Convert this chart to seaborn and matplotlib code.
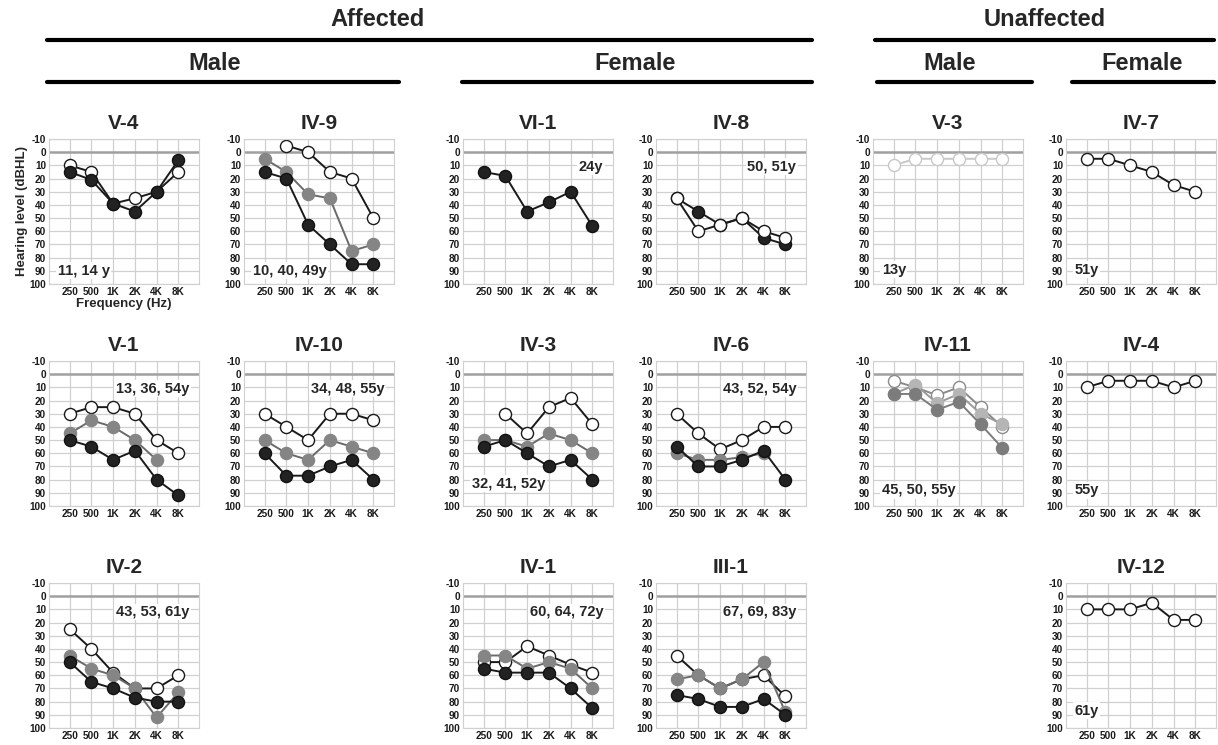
import matplotlib
matplotlib.use("Agg")
import matplotlib.pyplot as plt
from matplotlib.lines import Line2D
import numpy as np
import pandas as pd
import seaborn as sns

sns.set_style("white")
plt.rcParams["font.family"] = ["Liberation Sans", "DejaVu Sans"]

# frequencies (categorical x axis)
freqs = ["250", "500", "1K", "2K", "4K", "8K"]
db_ticks = [-10, 0, 10, 20, 30, 40, 50, 60, 70, 80, 90, 100]
nan = np.nan

# hearing thresholds (dBHL)
v4_white = [10, 15, 39, 35, 30, 15]
v4_black = [15, 21, 39, 45, 30, 6]
iv9_white = [nan, -5, 0, 15, 20, 50]
iv9_gray = [5, 15, 32, 35, 75, 70]
iv9_black = [15, 20, 55, 70, 85, 85]
vi1_black = [15, 18, 45, 38, 30, 56]
iv8_white = [35, 60, 55, 50, 60, 65]
iv8_black = [35, 45, 55, 50, 65, 70]
v3_white = [10, 5, 5, 5, 5, 5]
iv7_white = [5, 5, 10, 15, 25, 30]

v1_white = [30, 25, 25, 30, 50, 60]
v1_gray = [45, 35, 40, 50, 65, nan]
v1_black = [50, 55, 65, 58, 80, 92]
iv10_white = [30, 40, 50, 30, 30, 35]
iv10_gray = [50, 60, 65, 50, 55, 60]
iv10_black = [60, 77, 77, 70, 65, 80]
iv3_white = [nan, 30, 45, 25, 18, 38]
iv3_gray = [50, 50, 55, 45, 50, 60]
iv3_black = [55, 50, 60, 70, 65, 80]
iv6_white = [30, 45, 57, 50, 40, 40]
iv6_gray = [60, 65, 65, 63, 60, nan]
iv6_black = [55, 70, 70, 65, 58, 80]
iv11_white = [5, 10, 16, 10, 25, 40]
iv11_light = [15, 8, 22, 15, 30, 38]
iv11_gray = [15, 15, 27, 21, 38, 56]
iv4_white = [10, 5, 5, 5, 10, 5]

iv2_white = [25, 40, 58, 70, 70, 60]
iv2_gray = [45, 55, 60, 70, 92, 73]
iv2_black = [50, 65, 70, 77, 80, 80]
iv1_white = [50, 50, 38, 45, 52, 58]
iv1_gray = [45, 45, 55, 50, 55, 70]
iv1_black = [55, 58, 58, 58, 70, 85]
iii1_white = [45, 60, 70, 63, 60, 76]
iii1_gray = [63, 60, 70, 63, 50, 88]
iii1_black = [75, 78, 84, 84, 78, 90]
iv12_white = [10, 10, 10, 5, 18, 18]

# marker styles: (face, edge, line)
styles = {
    "white": ("#ffffff", "#1a1a1a", "#1a1a1a"),
    "gray": ("#858585", "#858585", "#6a6a6a"),
    "black": ("#222222", "#111111", "#1a1a1a"),
    "faint": ("#ffffff", "#c8c8c8", "#c8c8c8"),
    "w2": ("#ffffff", "#8a8a8a", "#8a8a8a"),
    "light": ("#b5b5b5", "#b5b5b5", "#9a9a9a"),
    "mid": ("#7c7c7c", "#7c7c7c", "#7c7c7c"),
}

W, H = 1218, 745
cols = [49, 244, 463, 656, 873, 1066]
rows = [139, 361, 583]
AW, AH = 150, 145

panels = [
    ("V-4", 0, 0, [(v4_white, "white"), (v4_black, "black")], "11, 14 y", 90),
    ("IV-9", 0, 1, [(iv9_white, "white"), (iv9_gray, "gray"), (iv9_black, "black")], "10, 40, 49y", 90),
    ("VI-1", 0, 2, [(vi1_black, "black")], "24y", 11),
    ("IV-8", 0, 3, [(iv8_black, "black"), (iv8_white, "white")], "50, 51y", 11),
    ("V-3", 0, 4, [(v3_white, "faint")], "13y", 89),
    ("IV-7", 0, 5, [(iv7_white, "white")], "51y", 89),
    ("V-1", 1, 0, [(v1_white, "white"), (v1_gray, "gray"), (v1_black, "black")], "13, 36, 54y", 11),
    ("IV-10", 1, 1, [(iv10_white, "white"), (iv10_gray, "gray"), (iv10_black, "black")], "34, 48, 55y", 11),
    ("IV-3", 1, 2, [(iv3_white, "white"), (iv3_gray, "gray"), (iv3_black, "black")], "32, 41, 52y", 83),
    ("IV-6", 1, 3, [(iv6_white, "white"), (iv6_gray, "gray"), (iv6_black, "black")], "43, 52, 54y", 11),
    ("IV-11", 1, 4, [(iv11_white, "w2"), (iv11_light, "light"), (iv11_gray, "mid")], "45, 50, 55y", 88),
    ("IV-4", 1, 5, [(iv4_white, "white")], "55y", 88),
    ("IV-2", 2, 0, [(iv2_white, "white"), (iv2_gray, "gray"), (iv2_black, "black")], "43, 53, 61y", 12),
    ("IV-1", 2, 2, [(iv1_white, "white"), (iv1_gray, "gray"), (iv1_black, "black")], "60, 64, 72y", 12),
    ("III-1", 2, 3, [(iii1_white, "white"), (iii1_gray, "gray"), (iii1_black, "black")], "67, 69, 83y", 12),
    ("IV-12", 2, 5, [(iv12_white, "white")], "61y", 87),
]

fig = plt.figure(figsize=(W / 100, H / 100), dpi=100)

for name, r, c, series, age, age_y in panels:
    x0, y0 = cols[c], rows[r]
    ax = fig.add_axes([x0 / W, 1 - (y0 + AH) / H, AW / W, AH / H])
    for vals, st in series:
        fc, ec, lc = styles[st]
        df = pd.DataFrame({"pos": np.arange(len(freqs)), "db": vals}).dropna()
        sns.lineplot(data=df, x="pos", y="db", ax=ax, color=lc, lw=1.4,
                     marker="o", markersize=8.7, markerfacecolor=fc,
                     markeredgecolor=ec, markeredgewidth=1.0)
    ax.set_xlim(-0.95, 5.95)
    ax.set_ylim(100, -10)
    ax.set_xticks(range(len(freqs)))
    ax.set_xticklabels(freqs)
    ax.set_yticks(db_ticks)
    ax.set_yticklabels([str(t) for t in db_ticks])
    ax.tick_params(length=0, labelsize=7.2, pad=2, colors="#1a1a1a")
    for lab in ax.get_xticklabels() + ax.get_yticklabels():
        lab.set_fontweight("bold")
    ax.grid(True, color="#d0d0d0", lw=0.9)
    ax.set_axisbelow(True)
    ax.axhline(0, color="#a0a0a0", lw=1.8, zorder=1)
    for sp in ax.spines.values():
        sp.set_color("#d0d0d0")
    ax.set_xlabel("")
    ax.set_ylabel("")
    ax.set_title(name, fontsize=15, fontweight="bold", pad=7)
    box = dict(facecolor="white", edgecolor="none", pad=1.0)
    if age_y < 50:
        ax.text(5.5, age_y, age, ha="right", va="center", fontsize=10.5,
                fontweight="bold", bbox=box, zorder=5)
    else:
        ax.text(-0.55, age_y, age, ha="left", va="center", fontsize=10.5,
                fontweight="bold", bbox=box, zorder=5)
    if name == "V-4":
        ax.set_ylabel("Hearing level (dBHL)", fontsize=9.5, fontweight="bold", labelpad=1)
        ax.set_xlabel("Frequency (Hz)", fontsize=9.5, fontweight="bold", labelpad=1)

# group headers
def header(text, xc, yc, size):
    fig.text(xc / W, 1 - yc / H, text, ha="center", va="center",
             fontsize=size, fontweight="bold")

def hline(xa, xb, y):
    fig.add_artist(Line2D([xa / W, xb / W], [1 - y / H] * 2, lw=3, color="black"))

header("Affected", 378, 19, 17)
header("Unaffected", 1045, 19, 17)
hline(47, 812, 40)
hline(875, 1214, 40)
header("Male", 215, 64, 17)
header("Female", 635, 64, 17)
header("Male", 950, 64, 17)
header("Female", 1142, 64, 17)
hline(47, 399, 82)
hline(462, 812, 82)
hline(877, 1032, 82)
hline(1072, 1214, 82)

fig.savefig("out.png", dpi=100, facecolor="white")
